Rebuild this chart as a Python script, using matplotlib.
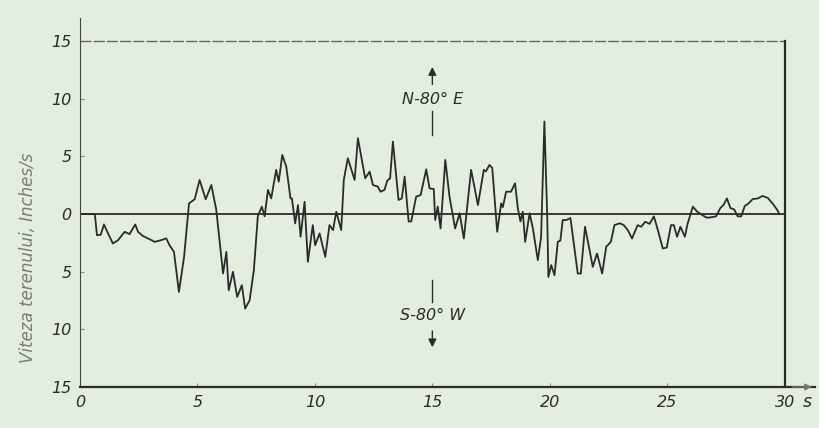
import matplotlib
matplotlib.use("Agg")
import matplotlib.pyplot as plt

# --- data (ground velocity, inches/s) ---
t = [0.0, 0.63, 0.72, 0.88, 1.02, 1.19, 1.40, 1.62, 1.90, 2.11, 2.35, 2.47, 2.68, 2.89,
     3.18, 3.46, 3.67, 3.81, 4.00, 4.21, 4.43, 4.64, 4.88, 5.09, 5.35, 5.59, 5.80, 5.95,
     6.09, 6.23, 6.33, 6.51, 6.69, 6.89, 7.03, 7.22, 7.40, 7.57, 7.74, 7.86, 8.00, 8.14,
     8.35, 8.46, 8.61, 8.78, 8.96, 9.02, 9.16, 9.28, 9.39, 9.56, 9.70, 9.91, 10.01, 10.20,
     10.44, 10.62, 10.77, 10.91, 11.12, 11.23, 11.40, 11.69, 11.83, 12.14, 12.33, 12.47,
     12.68, 12.79, 12.96, 13.08, 13.20, 13.32, 13.56, 13.70, 13.82, 13.99, 14.10, 14.31,
     14.50, 14.74, 14.88, 15.06, 15.12, 15.23, 15.35, 15.55, 15.73, 15.97, 16.16, 16.34,
     16.65, 16.94, 17.19, 17.28, 17.43, 17.55, 17.76, 17.93, 18.00, 18.14, 18.35, 18.52,
     18.64, 18.75, 18.85, 18.95, 19.14, 19.28, 19.49, 19.63, 19.77, 19.89, 19.94, 20.06,
     20.20, 20.34, 20.45, 20.55, 20.70, 20.88, 21.19, 21.32, 21.50, 21.83, 22.01, 22.23,
     22.40, 22.60, 22.75, 22.98, 23.15, 23.32, 23.50, 23.74, 23.89, 24.06, 24.25, 24.43,
     24.60, 24.81, 24.98, 25.16, 25.28, 25.42, 25.56, 25.75, 25.87, 26.09, 26.28, 26.45,
     26.66, 26.80, 27.08, 27.26, 27.40, 27.54, 27.69, 27.85, 28.00, 28.15, 28.30, 28.45,
     28.64, 28.85, 29.06, 29.28, 29.49, 29.67, 29.77]
v = [0.0, 0.0, -1.83, -1.80, -0.90, -1.68, -2.55, -2.26, -1.54, -1.74, -0.90, -1.54, -1.91,
     -2.11, -2.41, -2.26, -2.11, -2.70, -3.28, -6.76, -3.71, 0.93, 1.28, 2.96, 1.28, 2.52,
     0.37, -2.50, -5.16, -3.28, -6.61, -5.01, -7.19, -6.17, -8.20, -7.48, -4.87, -0.17,
     0.64, -0.20, 2.09, 1.36, 3.83, 2.81, 5.13, 4.12, 1.36, 1.36, -0.81, 0.78, -1.97, 1.07,
     -4.14, -0.96, -2.70, -1.68, -3.71, -0.96, -1.39, 0.20, -1.39, 2.96, 4.84, 2.96, 6.58,
     3.10, 3.68, 2.52, 2.38, 1.94, 2.09, 2.90, 3.10, 6.29, 1.22, 1.36, 3.25, -0.64, -0.64,
     1.51, 1.65, 3.88, 2.23, 2.17, -0.52, 0.64, -1.25, 4.70, 1.51, -1.25, 0.07, -2.12,
     3.83, 0.78, 3.83, 3.70, 4.26, 4.00, -1.54, 0.93, 0.60, 1.94, 1.94, 2.67, 0.49, -0.64,
     0.20, -2.41, 0.07, -1.25, -4.00, -2.00, 8.03, -0.20, -5.45, -4.43, -5.30, -2.41,
     -2.30, -0.52, -0.52, -0.35, -5.16, -5.16, -1.10, -4.58, -3.42, -5.16, -2.84, -2.41,
     -0.96, -0.80, -0.96, -1.39, -2.12, -0.96, -1.10, -0.67, -0.85, -0.20, -1.39, -2.99,
     -2.90, -0.96, -0.96, -1.97, -1.10, -1.97, -0.81, 0.64, 0.20, -0.03, -0.30, -0.30,
     -0.20, 0.52, 0.80, 1.36, 0.52, 0.40, -0.20, -0.20, 0.70, 0.90, 1.30, 1.35, 1.57, 1.40,
     0.90, 0.40, 0.0]

xticks = [0, 5, 10, 15, 20, 25, 30]
xtick_labels = ["0", "5", "10", "15", "20", "25", "30"]
yticks = [-15, -10, -5, 0, 5, 10, 15]
ytick_labels = ["15", "10", "5", "0", "5", "10", "15"]

bg = "#e4eee0"
ink = "#2b2b2b"
font = ["Liberation Sans Narrow", "DejaVu Sans"]

fig = plt.figure(figsize=(8.2, 4.28), dpi=100, facecolor=bg)
ax = fig.add_axes([0.0976, 0.0958, 0.896, 0.862], facecolor=bg)

ax.plot(t, v, color=ink, lw=1.3, solid_joinstyle="round")
ax.axhline(0, xmin=0, xmax=30 / 31.28, color=ink, lw=1.3)

# frame at 15 and 30 s
ax.plot([0, 30], [15, 15], color="#666666", lw=1.0, ls=(0, (8, 1.5)))
ax.plot([30, 30], [-15, 15], color=ink, lw=1.6)

ax.set_xlim(0, 31.28)
ax.set_ylim(-15, 17)

for side in ["top", "right"]:
    ax.spines[side].set_visible(False)
ax.spines["left"].set_color("#444444")
ax.spines["bottom"].set_color(ink)
ax.spines["bottom"].set_linewidth(1.6)

# axis arrow
ax.annotate("", xy=(31.28, -15), xytext=(30.2, -15),
            arrowprops=dict(arrowstyle="-|>", color="#777777", lw=1.0), annotation_clip=False)

ax.set_xticks(xticks)
ax.set_xticklabels(xtick_labels)
ax.set_yticks(yticks)
ax.set_yticklabels(ytick_labels)
ax.tick_params(direction="in", length=3, color="#888888", labelsize=11.5, pad=6)
for lab in ax.get_xticklabels() + ax.get_yticklabels():
    lab.set_fontstyle("italic")
    lab.set_family(font)
    lab.set_color(ink)
ax.text(30.95, -16.75, "s", fontsize=12.5, style="italic", family=font, color=ink,
        ha="center", va="baseline", clip_on=False)

ax.set_ylabel("Viteza terenului, Inches/s", fontsize=12, style="italic",
              family=font, color="#7a7a7a")
ax.yaxis.set_label_coords(-0.058, 0.35)

# direction markers
ax.annotate("", xy=(15, 13.0), xytext=(15, 11.0),
            arrowprops=dict(arrowstyle="-|>", color=ink, lw=1.0, mutation_scale=12))
ax.plot([15, 15], [6.9, 8.9], color=ink, lw=1.0)
ax.text(15, 9.9, "N-80° E", fontsize=11.5, style="italic", family=font, color=ink,
        ha="center", va="center")

ax.plot([15, 15], [-5.7, -7.6], color=ink, lw=1.0)
ax.text(15, -8.8, "S-80° W", fontsize=11.5, style="italic", family=font, color=ink,
        ha="center", va="center")
ax.annotate("", xy=(15, -11.8), xytext=(15, -9.9),
            arrowprops=dict(arrowstyle="-|>", color=ink, lw=1.0, mutation_scale=12))

fig.savefig("out.png", dpi=100, facecolor=bg)
